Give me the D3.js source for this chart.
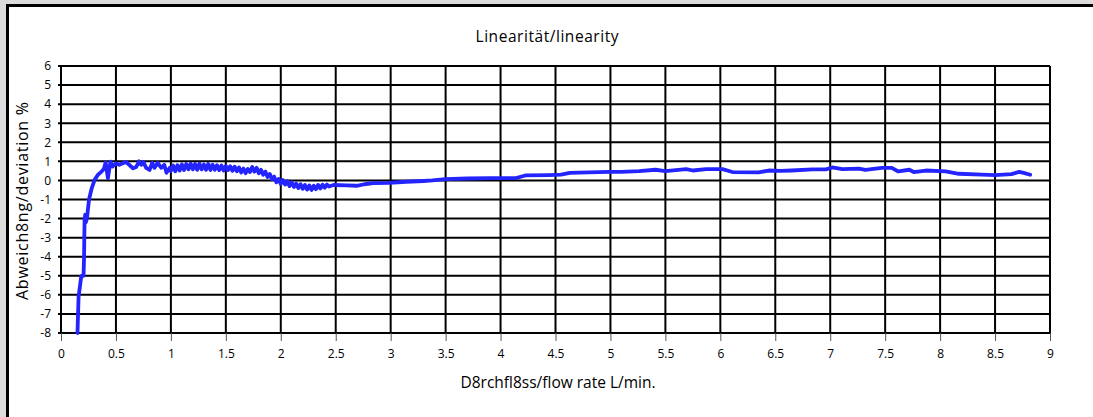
<!DOCTYPE html>
<html>
<head>
<meta charset="utf-8">
<script src="https://cdn.jsdelivr.net/npm/d3@7/dist/d3.min.js"></script>
<style>
  body { margin: 0; background: #dcdcdc; }
  svg { display: block; }
  text { font-family: "Open Sans", "DejaVu Sans", sans-serif; fill: #000; }
</style>
</head>
<body>
<div id="chart"></div>
<script>
// flow rate L/min (x) and deviation % (y)
var flow = [
  0.15, 0.16, 0.185, 0.205, 0.21, 0.212, 0.215, 0.22, 0.225, 0.236, 0.255, 0.28,
  0.306, 0.336, 0.367, 0.39, 0.406, 0.427, 0.45, 0.47, 0.5, 0.53, 0.59, 0.62,
  0.655, 0.685, 0.71, 0.73, 0.75, 0.775, 0.806, 0.83, 0.85, 0.88, 0.913, 0.94,
  0.96, 0.99,
  1.00, 1.02, 1.04, 1.06, 1.08, 1.10, 1.12, 1.14, 1.16, 1.18, 1.20, 1.22, 1.24,
  1.26, 1.28, 1.30, 1.32, 1.34, 1.36, 1.38, 1.40, 1.42, 1.44, 1.46, 1.48, 1.50,
  1.52, 1.54, 1.56, 1.58, 1.60, 1.62, 1.64, 1.66, 1.68, 1.70, 1.72, 1.74, 1.76,
  1.78, 1.80, 1.82, 1.84, 1.86, 1.88, 1.90, 1.92, 1.94, 1.96, 1.98, 2.00, 2.02,
  2.04, 2.06, 2.08, 2.10, 2.12, 2.14, 2.16, 2.18, 2.20, 2.22, 2.24, 2.26, 2.28,
  2.30, 2.32, 2.34, 2.36, 2.38, 2.40, 2.42, 2.44, 2.48,
  2.6, 2.69, 2.76, 2.84, 2.99, 3.14, 3.3, 3.38, 3.5, 3.7, 3.9, 4.14, 4.2, 4.23,
  4.44, 4.55, 4.63, 4.8, 4.99, 5.1, 5.26, 5.41, 5.5, 5.69, 5.75, 5.87, 6.02,
  6.11, 6.35, 6.44, 6.55, 6.65, 6.84, 6.96, 7.02, 7.11, 7.26, 7.32, 7.47, 7.56,
  7.62, 7.72, 7.76, 7.87, 8.05, 8.17, 8.38, 8.5, 8.65, 8.72, 8.76, 8.82
];
var deviation = [
  -8, -6.1, -5.0, -5.0, -4, -3, -2, -1.8, -2.2, -2.0, -1.0, -0.4,
  0.03, 0.3, 0.45, 0.6, 0.94, 0.12, 0.99, 0.73, 0.9, 0.82, 0.97, 0.82,
  0.64, 0.71, 1.0, 0.82, 0.96, 0.66, 0.55, 0.92, 0.66, 0.92, 0.66, 0.82,
  0.4, 0.66,
  0.50, 0.78, 0.48, 0.80, 0.52, 0.84, 0.55, 0.86, 0.58, 0.88, 0.58, 0.86, 0.56,
  0.88, 0.58, 0.84, 0.56, 0.86, 0.55, 0.82, 0.56, 0.80, 0.54, 0.78, 0.52, 0.76,
  0.54, 0.74, 0.50, 0.72, 0.48, 0.68, 0.42, 0.62, 0.38, 0.60, 0.44, 0.70, 0.46,
  0.66, 0.38, 0.56, 0.30, 0.46, 0.18, 0.34, 0.06, 0.20, -0.10, 0.08, -0.18, 0.02,
  -0.22, -0.04, -0.30, -0.10, -0.34, -0.16, -0.40, -0.20, -0.44, -0.24, -0.48, -0.26, -0.50,
  -0.28, -0.46, -0.24, -0.42, -0.22, -0.38, -0.22, -0.32, -0.24,
  -0.26, -0.28, -0.2, -0.14, -0.13, -0.07, -0.03, 0.0, 0.07, 0.1, 0.12, 0.12, 0.22, 0.26,
  0.28, 0.3, 0.4, 0.42, 0.45, 0.45, 0.49, 0.56, 0.49, 0.59, 0.52, 0.59, 0.59,
  0.44, 0.42, 0.52, 0.5, 0.52, 0.58, 0.58, 0.68, 0.59, 0.62, 0.55, 0.66, 0.66,
  0.47, 0.56, 0.44, 0.52, 0.47, 0.35, 0.3, 0.28, 0.33, 0.45, 0.4, 0.3
];
var xTicks = [0, 0.5, 1, 1.5, 2, 2.5, 3, 3.5, 4, 4.5, 5, 5.5, 6, 6.5, 7, 7.5, 8, 8.5, 9];
var yTicks = [6, 5, 4, 3, 2, 1, 0, -1, -2, -3, -4, -5, -6, -7, -8];

var width = 1093, height = 417;
var plotLeft = 61, plotRight = 1050, plotTop = 66, plotBottom = 333;

var svg = d3.select('#chart')
  .append('svg')
  .attr('width', width)
  .attr('height', height);

// frame
svg.append('rect').attr('x', 6).attr('y', 4).attr('width', width).attr('height', height).attr('fill', '#000');
svg.append('rect').attr('x', 9).attr('y', 7).attr('width', width).attr('height', height).attr('fill', '#fff');

var x = d3.scaleLinear().domain([0, 9]).range([plotLeft, plotRight]);
var y = d3.scaleLinear().domain([-8, 6]).range([plotBottom, plotTop]);

// grid
svg.append('g')
  .selectAll('line')
  .data(yTicks)
  .enter()
  .append('line')
  .attr('x1', plotLeft - 3).attr('x2', plotRight)
  .attr('y1', function(d){ return y(d); })
  .attr('y2', function(d){ return y(d); })
  .attr('stroke', '#000').attr('stroke-width', 2);

svg.append('g')
  .selectAll('line')
  .data(xTicks)
  .enter()
  .append('line')
  .attr('x1', function(d){ return x(d); })
  .attr('x2', function(d){ return x(d); })
  .attr('y1', plotTop).attr('y2', plotBottom)
  .attr('stroke', '#000').attr('stroke-width', 2);

// x axis
var xAxis = d3.axisBottom(x)
  .tickValues(xTicks)
  .tickSize(8)
  .tickFormat(function(d){ return d; });
var gx = svg.append('g')
  .attr('transform', 'translate(0,' + plotBottom + ')')
  .call(xAxis);
gx.select('.domain').remove();
gx.selectAll('.tick line').attr('stroke', '#555');
gx.selectAll('.tick text').attr('dy', '1.15em').style('font-size', '12px');

// y axis
var yAxis = d3.axisLeft(y)
  .tickValues(yTicks)
  .tickSize(0)
  .tickPadding(10)
  .tickFormat(function(d){ return d; });
var gy = svg.append('g')
  .attr('transform', 'translate(' + plotLeft + ',0)')
  .call(yAxis);
gy.select('.domain').remove();
gy.selectAll('.tick text').style('font-size', '12px');

// data line
var pts = flow.map(function(f, i){ return [f, deviation[i]]; });
var line = d3.line()
  .x(function(d){ return x(d[0]); })
  .y(function(d){ return y(d[1]); });

svg.append('path')
  .datum(pts)
  .attr('d', line)
  .attr('fill', 'none')
  .attr('stroke', '#2424ff')
  .attr('stroke-width', 3.8)
  .attr('stroke-linejoin', 'round')
  .attr('stroke-linecap', 'round');

// titles
svg.append('text')
  .attr('x', 547).attr('y', 42)
  .attr('text-anchor', 'middle')
  .attr('textLength', 143)
  .style('font-size', '15.5px')
  .text('Linearität/linearity');

svg.append('text')
  .attr('x', 558).attr('y', 388)
  .attr('text-anchor', 'middle')
  .attr('textLength', 195)
  .style('font-size', '15.5px')
  .text('D8rchfl8ss/flow rate L/min.');

svg.append('text')
  .attr('transform', 'translate(28,201) rotate(-90)')
  .attr('text-anchor', 'middle')
  .attr('textLength', 198)
  .style('font-size', '16px')
  .text('Abweich8ng/deviation %');
</script>
</body>
</html>
